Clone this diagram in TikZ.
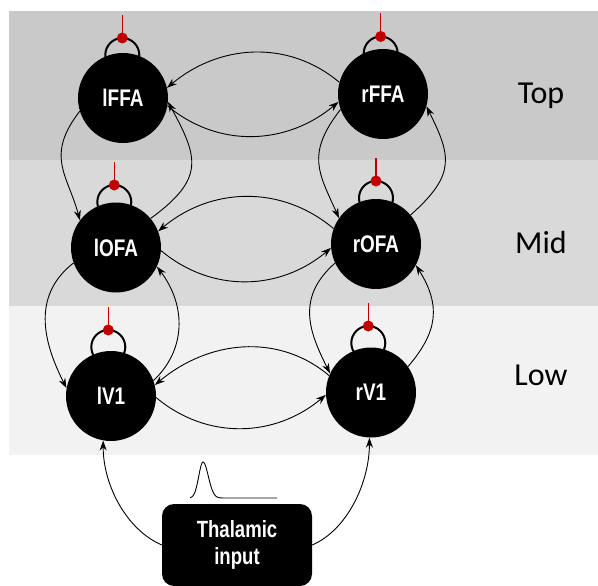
\documentclass[tikz,border=0pt]{standalone}
\usepackage{fontspec}
\setmainfont{Carlito}
\newfontfamily\nodefont[FakeStretch=0.79]{Liberation Sans}
\usetikzlibrary{arrows.meta}

\pgfdeclarelayer{bands}
\pgfdeclarelayer{loops}
\pgfsetlayers{bands,loops,main}

\definecolor{bandtop}{HTML}{C9C9C9}
\definecolor{bandmid}{HTML}{D9D9D9}
\definecolor{bandlow}{HTML}{F2F2F2}
\definecolor{inhib}{HTML}{C00000}

\tikzset{
  area/.style={circle, fill=black, minimum size=90pt, inner sep=0pt,
    text=white, font=\nodefont\bfseries\fontsize{24}{27}\selectfont},
  source/.style={rectangle, rounded corners=12pt, fill=black,
    minimum width=150pt, minimum height=82pt, inner sep=0pt, align=center,
    text=white, font=\nodefont\bfseries\fontsize{23.5}{27}\selectfont},
  tier/.style={anchor=base, font=\fontsize{32}{38}\selectfont},
  link/.style={line width=0.9pt, -{Stealth[length=10pt,width=7pt]}},
  recur/.style={line width=2pt},
  inhibline/.style={draw=inhib, line width=1.3pt},
}

% self-connection: node, horizontal offset, height of the red dot above the centre
\newcommand\recurrent[3]{%
  \begin{pgfonlayer}{loops}
    \draw[recur] ([shift={(#2pt,#3pt-17pt)}]#1.center) circle[radius=17pt];
    \draw[inhibline] ([shift={(#2pt,#3pt)}]#1.center) -- ([shift={(#2pt,#3pt+23pt)}]#1.center);
    \fill[inhib] ([shift={(#2pt,#3pt)}]#1.center) circle[radius=5.5pt];
  \end{pgfonlayer}}

\begin{document}
\begin{tikzpicture}[x=1pt, y=1pt]
\useasboundingbox (0,0) rectangle (598,-586);

% hierarchy bands
\begin{pgfonlayer}{bands}
  \fill[white] (0,0) rectangle (598,-586);
  \fill[bandtop] (9,-11) rectangle (598,-160);
  \fill[bandmid] (9,-160) rectangle (598,-306);
  \fill[bandlow] (9,-306) rectangle (598,-455);
\end{pgfonlayer}

% areas
\node[area] (lFFA) at (123,-98) {lFFA};
\node[area] (rFFA) at (383,-94) {rFFA};
\node[area] (lOFA) at (116,-247.5) {lOFA};
\node[area] (rOFA) at (376,-244) {rOFA};
\node[area] (lV1) at (111,-396) {lV1};
\node[area] (rV1) at (371,-392.5) {rV1};

\node[source] (thal) at (237,-545) {Thalamic\\input};

% tier labels
\node[tier] (ttop) at (541,-103) {Top};
\node[tier] (tmid) at (541,-253) {Mid};
\node[tier] (tlow) at (541,-385) {Low};

% recurrent self-connections
\recurrent{lFFA}{-0.7}{60}
\recurrent{rFFA}{-2.3}{57.5}
\recurrent{lOFA}{-1.7}{62.5}
\recurrent{rOFA}{0}{63}
\recurrent{lV1}{-2.7}{66}
\recurrent{rV1}{-2.7}{66.5}

% interhemispheric connections
\draw[link] (rFFA.165) to[out=140,in=40] (lFFA.13);
\draw[link] (lFFA.-10) to[out=-40,in=-140] (rFFA.190);
\draw[link] (rOFA.160) to[out=140,in=40] (lOFA.21);
\draw[link] (lOFA.-4) to[out=-40,in=-140] (rOFA.185);
\draw[link] (rV1.158) to[out=140,in=40] (lV1.14);
\draw[link] (lV1.-2) to[out=-40,in=-140] (rV1.183);

% feedforward / feedback within each hemisphere
\draw[link] (lFFA.197) .. controls +(-35,-45) and +(-12,45) .. (lOFA.143);
\draw[link] (lOFA.40) .. controls +(55,40) and +(30,-55) .. (lFFA.-5);
\draw[link] (rFFA.200) .. controls +(-35,-45) and +(-20,45) .. (rOFA.145);
\draw[link] (rOFA.40) .. controls +(45,40) and +(25,-50) .. (rFFA.-16);
\draw[link] (lOFA.200) .. controls +(-45,-35) and +(-20,40) .. (lV1.170);
\draw[link] (lV1.20) .. controls +(32,30) and +(30,-40) .. (lOFA.-25);
\draw[link] (rOFA.205) .. controls +(-40,-35) and +(-20,40) .. (rV1.155);
\draw[link] (rV1.35) .. controls +(30,35) and +(25,-40) .. (rOFA.-28);

% thalamic drive
\draw[link] (thal.west) .. controls +(-35,15) and +(0,-45) .. (lV1.260);
\draw[link] (thal.east) .. controls +(35,15) and +(0,-45) .. (rV1.268);

% input pulse
\draw[line width=0.9pt]
  plot[domain=190:203, samples=30] (\x, {-498+36*exp(-((\x-203)/6)^2)})
  -- plot[domain=203:232, samples=50] (\x, {-498+36*exp(-((\x-203)/7.5)^2)})
  -- (277,-498);
\end{tikzpicture}
\end{document}
